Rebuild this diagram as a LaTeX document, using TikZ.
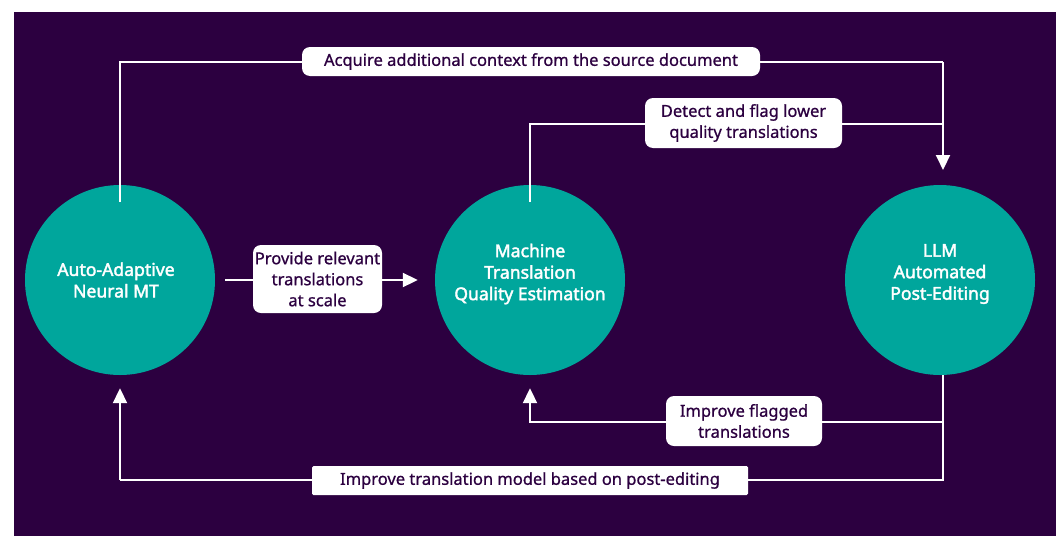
\documentclass[tikz,border=0pt]{standalone}
\usepackage{fontspec}
\setmainfont{Noto Sans}
\newfontfamily\stagefont{Noto Sans}[FakeBold=2.2]
\newfontfamily\tagfont{Noto Sans}[FakeBold=0.8]
\usetikzlibrary{arrows.meta}
\definecolor{bgpurple}{RGB}{44,0,64}
\definecolor{stageteal}{RGB}{0,166,156}
\begin{document}
\begin{tikzpicture}[x=1pt,y=-1pt,
  stage/.style={circle, fill=stageteal, minimum size=190pt, inner sep=0pt},
  stagetext/.style={text=white, align=center, inner sep=0pt,
    font=\stagefont\fontsize{17.6}{21.5}\selectfont},
  flow/.style={draw=white, line width=2pt},
  tip/.style={-{Triangle[width=14pt,length=15pt]}},
  tag/.style={fill=white, rounded corners=8pt, text=bgpurple, align=center,
    inner sep=0pt, font=\tagfont\fontsize{16.5}{21}\selectfont}]
  % canvas
  \useasboundingbox (0,0) rectangle (1056,536);
  \fill[white] (0,0) rectangle (1056,536);
  \fill[bgpurple] (14,12) rectangle (1056,536);

  % process stages
  \node[stage] (amt) at (120,280) {};
  \node[stage] (mtqe) at (530,280) {};
  \node[stage] (ape) at (940,280) {};
  \node[stagetext] (amt-t) at ([xshift=-4pt]amt.center) {Auto-Adaptive\\Neural MT};
  \node[stagetext] (mtqe-t) at ([yshift=6pt]mtqe.center) {Machine\\Translation\\Quality Estimation};
  \node[stagetext] (ape-t) at ([yshift=6pt]ape.center) {LLM\\Automated\\Post-Editing};

  % corner points of the feedback routes
  \coordinate (t1) at (120,62);
  \coordinate (t2) at (943,62);
  \coordinate (m1) at (530,124);
  \coordinate (m2) at (943,124);
  \coordinate (b1) at (943,422);
  \coordinate (b2) at (530,422);
  \coordinate (c1) at (943,480);
  \coordinate (c2) at (120,480);
  \coordinate (apeT) at (943,187);
  \coordinate (apeB) at (943,375);

  % connectors
  \draw[flow] ([yshift=-17pt]amt.north) -- (t1) -- (t2);
  \draw[flow, tip, shorten >=17pt] (t2) -- (apeT);
  \draw[flow] ([yshift=-17pt]mtqe.north) -- (m1) -- (m2);
  \draw[flow] (apeB) -- (c1) -- (c2);
  \draw[flow, tip, shorten >=13pt] (c2) -- (amt.south);
  \draw[flow, tip, shorten >=13pt] (b1) -- (b2) -- (mtqe.south);
  \draw[flow, tip, shorten <=10pt, shorten >=17pt] (amt.east) -- (mtqe.west);

  % labels on the connectors
  \node[tag, minimum width=458pt, minimum height=29pt] (acq) at (531,61.5)
    {Acquire additional context from the source document};
  \node[tag, minimum width=197pt, minimum height=50pt] (det) at (743.5,123)
    {Detect and flag lower\\quality translations};
  \node[tag, minimum width=129pt, minimum height=68pt] (prov) at (317.5,279)
    {Provide relevant\\translations\\at scale};
  \node[tag, minimum width=156pt, minimum height=50pt] (flag) at (744,421)
    {Improve flagged\\translations};
  \node[tag, rounded corners=1.5pt, minimum width=436pt, minimum height=29pt] (imp) at (530,480.5)
    {Improve translation model based on post-editing};
\end{tikzpicture}
\end{document}
